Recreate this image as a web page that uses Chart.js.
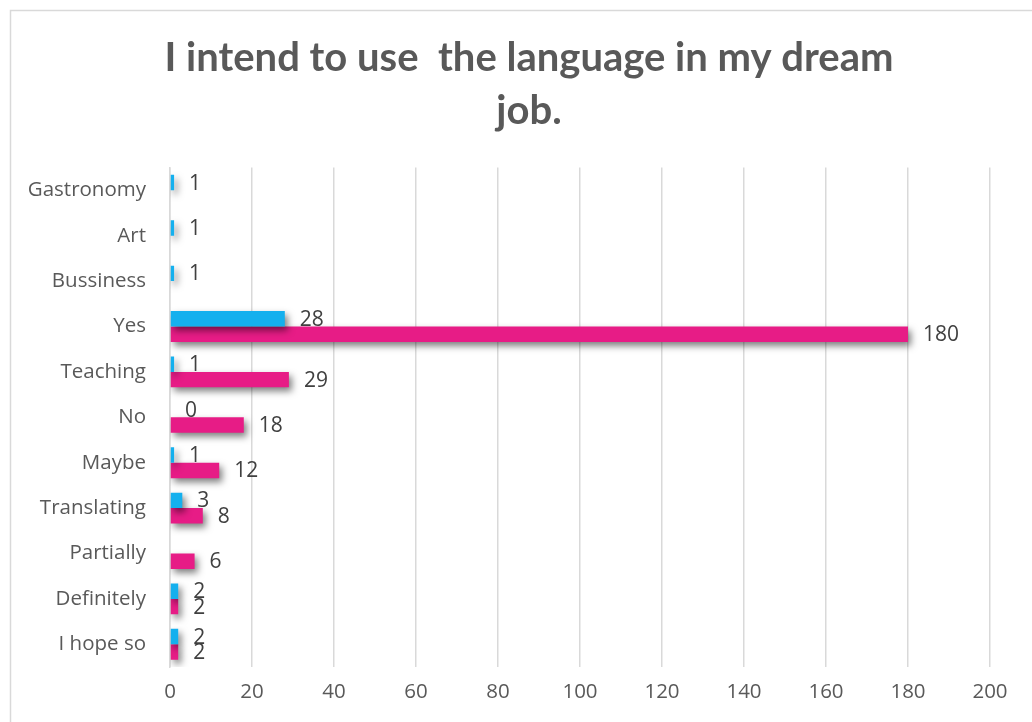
<!DOCTYPE html>
<html>
<head>
<meta charset="utf-8">
<script src="https://cdn.jsdelivr.net/npm/chart.js@4.4.1/dist/chart.umd.min.js"></script>
<style>
  html, body { margin: 0; padding: 0; background: #ffffff; overflow: hidden; }
  #wrap { position: absolute; left: 0; top: 0; width: 1048px; height: 722px; }
</style>
</head>
<body>
<div id="wrap"><canvas id="c" width="1048" height="722"></canvas></div>
<script>
const categories = ['Gastronomy', 'Art', 'Bussiness', 'Yes', 'Teaching', 'No', 'Maybe', 'Translating', 'Partially', 'Definitely', 'I hope so'];
const blueValues = [1, 1, 1, 28, 1, 0, 1, 3, null, 2, 2];
const pinkValues = [null, null, null, 180, 29, 18, 12, 8, 6, 2, 2];
const xTicks = [0, 20, 40, 60, 80, 100, 120, 140, 160, 180, 200];
const titleLines = ['I intend to use  the language in my dream', 'job.'];

function vGrad(ctx, top, bottom, stops) {
  const g = ctx.createLinearGradient(0, top, 0, bottom);
  stops.forEach(s => g.addColorStop(s[0], s[1]));
  return g;
}
function barFill(stops, fallback) {
  return function (c) {
    const el = c.element;
    if (!el || el.y === undefined || !isFinite(el.height)) return fallback;
    const h = el.height;
    return vGrad(c.chart.ctx, el.y - h / 2, el.y + h / 2, stops);
  };
}

const framePlugin = {
  id: 'frame',
  beforeDraw(chart) {
    const ctx = chart.ctx;
    ctx.save();
    ctx.strokeStyle = '#d9d9d9';
    ctx.lineWidth = 1.5;
    ctx.strokeRect(10.5, 10.5, 1060, 760);
    ctx.restore();
  }
};

const shadowPlugin = {
  id: 'barShadow',
  beforeDatasetsDraw(chart) {
    const ctx = chart.ctx;
    ctx.save();
    ctx.shadowColor = 'rgba(0,0,0,0.5)';
    ctx.shadowBlur = 7;
    ctx.shadowOffsetX = 3;
    ctx.shadowOffsetY = 4;
  },
  afterDatasetsDraw(chart) {
    const ctx = chart.ctx;
    ctx.restore();
    ctx.save();
    ctx.font = '21px "Open Sans", Lato, sans-serif';
    ctx.fillStyle = '#404040';
    ctx.textAlign = 'left';
    ctx.textBaseline = 'middle';
    chart.data.datasets.forEach((ds, i) => {
      const meta = chart.getDatasetMeta(i);
      meta.data.forEach((el, j) => {
        const v = ds.data[j];
        if (v === null || v === undefined) return;
        ctx.fillText(String(v), el.x + 15, el.y + 1);
      });
    });
    ctx.restore();
  }
};

new Chart(document.getElementById('c'), {
  type: 'bar',
  data: {
    labels: categories,
    datasets: [
      {
        label: 'Series 1',
        data: blueValues,
        backgroundColor: barFill([[0, '#2bbaf1'], [0.5, '#14b0ee'], [1, '#0aa8e8']], '#14b0ee'),
        borderWidth: 0,
        categoryPercentage: 0.68,
        barPercentage: 1.0
      },
      {
        label: 'Series 2',
        data: pinkValues,
        backgroundColor: barFill([[0, '#f0559f'], [0.45, '#e71c86'], [1, '#e2167f']], '#e71c86'),
        borderWidth: 0,
        categoryPercentage: 0.68,
        barPercentage: 1.0
      }
    ]
  },
  options: {
    indexAxis: 'y',
    responsive: false,
    animation: false,
    devicePixelRatio: 1,
    layout: { padding: { left: 10, right: 0, top: 10, bottom: 0 } },
    plugins: {
      legend: { display: false },
      tooltip: { enabled: false },
      title: {
        display: true,
        text: titleLines,
        color: '#595959',
        font: { family: 'Lato, "Open Sans", sans-serif', size: 40, weight: 'bold', lineHeight: 1.32 },
        padding: { top: 22, bottom: 30 }
      }
    },
    scales: {
      x: {
        type: 'linear',
        min: 0,
        max: 200,
        afterBuildTicks(scale) { scale.ticks = xTicks.map(v => ({ value: v })); },
        afterFit(scale) { scale.height = 55; },
        grid: { color: '#d9d9d9', lineWidth: 1.5, drawTicks: false },
        border: { display: false },
        ticks: {
          color: '#595959',
          padding: 13,
          font: { family: '"Open Sans", Lato, sans-serif', size: 20.5 }
        }
      },
      y: {
        type: 'category',
        afterFit(scale) { scale.width = 160; },
        grid: { display: false, drawTicks: false },
        border: { display: true, color: '#d9d9d9', width: 1.5 },
        ticks: {
          color: '#595959',
          padding: 24,
          font: { family: '"Open Sans", Lato, sans-serif', size: 20.5 }
        }
      },
      spacer: {
        type: 'linear',
        position: 'right',
        axis: 'y',
        display: true,
        afterFit(scale) { scale.width = 58; },
        grid: { display: false, drawTicks: false },
        border: { display: false },
        ticks: { display: false }
      }
    }
  },
  plugins: [framePlugin, shadowPlugin]
});
</script>
</body>
</html>
